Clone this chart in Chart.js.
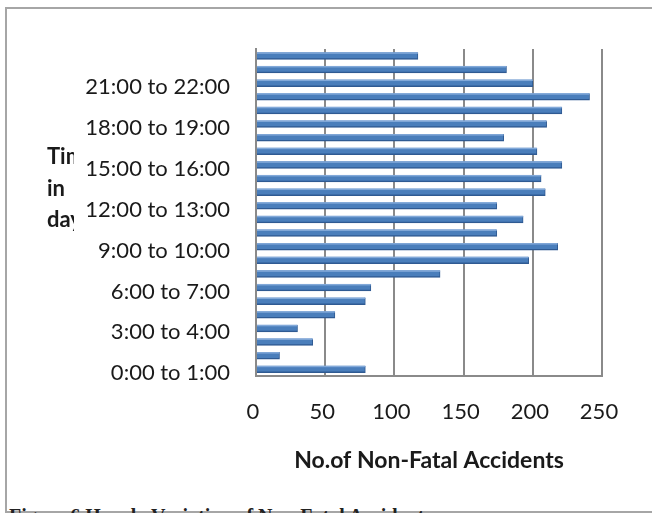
<!DOCTYPE html>
<html>
<head>
<meta charset="utf-8">
<script src="https://cdn.jsdelivr.net/npm/chart.js@4/dist/chart.umd.min.js"></script>
<style>
  html, body { margin: 0; padding: 0; background: #fff; overflow: hidden; }
  #frame {
    position: absolute; left: 5px; top: 7px; width: 720px; height: 506px;
    border: 2px solid #a6a6a6; box-sizing: border-box;
  }
  #wrap { position: absolute; left: 0; top: 0; width: 652px; height: 513px; }
  #caption {
    position: absolute; left: 9px; top: 505px; white-space: nowrap; line-height: 20px;
    font: bold 20px "Liberation Serif", "DejaVu Serif", serif; color: #222;
  }
</style>
</head>
<body>
<div id="frame"></div>
<div id="caption">Figure 6 Hourly Variation of Non-Fatal Accidents</div>
<div id="wrap"><canvas id="c" width="652" height="513"></canvas></div>
<script>
// Hour-of-day bands
const hours = [
  "0:00 to 1:00", "1:00 to 2:00", "2:00 to 3:00", "3:00 to 4:00",
  "4:00 to 5:00", "5:00 to 6:00", "6:00 to 7:00", "7:00 to 8:00",
  "8:00 to 9:00", "9:00 to 10:00", "10:00 to 11:00", "11:00 to 12:00",
  "12:00 to 13:00", "13:00 to 14:00", "14:00 to 15:00", "15:00 to 16:00",
  "16:00 to 17:00", "17:00 to 18:00", "18:00 to 19:00", "19:00 to 20:00",
  "20:00 to 21:00", "21:00 to 22:00", "22:00 to 23:00", "23:00 to 24:00"
];

// Non-fatal accidents per hour
const nonFatal = [
  79, 17, 41, 30, 57, 79, 83, 133,
  197, 218, 174, 193, 174, 209, 206, 221,
  203, 179, 210, 221, 241, 200, 181, 117
];

// Count axis ticks
const countTicks = [0, 50, 100, 150, 200, 250];

const yTitleLines = ["Time", "in", "day"];

const FONT = "Lato, 'Open Sans', sans-serif";

// Vertical axis title, partly hidden behind the hour labels
const sideTitle = {
  id: "sideTitle",
  afterDraw(chart) {
    const ctx = chart.ctx;
    ctx.save();
    ctx.beginPath();
    ctx.rect(0, 0, 74, chart.height);
    ctx.clip();
    ctx.font = "bold 22px " + FONT;
    ctx.fillStyle = "#1a1a1a";
    ctx.textAlign = "left";
    ctx.textBaseline = "middle";
    const ys = [157, 189, 220];
    yTitleLines.forEach((t, i) => ctx.fillText(t, 47, ys[i]));
    ctx.restore();
  }
};

// Light upper face on each bar for a raised look
const barShine = {
  id: "barShine",
  afterDatasetsDraw(chart) {
    const ctx = chart.ctx;
    const meta = chart.getDatasetMeta(0);
    ctx.save();
    ctx.fillStyle = "rgba(140,176,222,0.85)";
    meta.data.forEach(bar => {
      const p = bar.getProps(["x", "y", "base", "height"], true);
      const top = p.y - p.height / 2;
      ctx.fillRect(p.base, top, p.x - p.base, 1.5);
    });
    ctx.restore();
  }
};

new Chart(document.getElementById("c"), {
  type: "bar",
  data: {
    labels: hours,
    datasets: [{
      data: nonFatal,
      backgroundColor: "#4a7ebb",
      borderColor: "#2f5a92",
      borderWidth: { bottom: 1.5, right: 1, top: 0, left: 0 },
      borderSkipped: false,
      barThickness: 7
    }]
  },
  options: {
    indexAxis: "y",
    responsive: false,
    animation: false,
    devicePixelRatio: 1,
    layout: { padding: { left: 0, right: 50, top: 49, bottom: 37 } },
    plugins: { legend: { display: false }, tooltip: { enabled: false } },
    scales: {
      x: {
        min: 0, max: 250,
        afterBuildTicks(scale) { scale.ticks = countTicks.map(v => ({ value: v })); },
        afterFit(scale) { scale.height = 100; },
        grid: { color: "#8a8a8a", lineWidth: 2, drawTicks: false },
        border: { display: true, color: "#8a8a8a", width: 2 },
        ticks: {
          padding: 23,
          labelOffset: -3,
          color: "#1a1a1a",
          font: { family: FONT, size: 22 }
        },
        title: {
          display: true,
          text: "No.of Non-Fatal Accidents",
          color: "#1a1a1a",
          padding: { top: 0, bottom: 2 },
          font: { family: FONT, size: 23, weight: "bold" }
        }
      },
      y: {
        reverse: true,
        afterFit(scale) { scale.width = 256; },
        grid: { display: false, drawTicks: false },
        border: { display: true, color: "#8a8a8a", width: 2 },
        ticks: {
          autoSkip: false,
          padding: 26,
          labelOffset: 4,
          color: "#1a1a1a",
          font: { family: FONT, size: 22 },
          callback(value, index) { return index % 3 === 0 ? hours[index] : ""; }
        }
      }
    }
  },
  plugins: [barShine, sideTitle]
});
</script>
</body>
</html>
